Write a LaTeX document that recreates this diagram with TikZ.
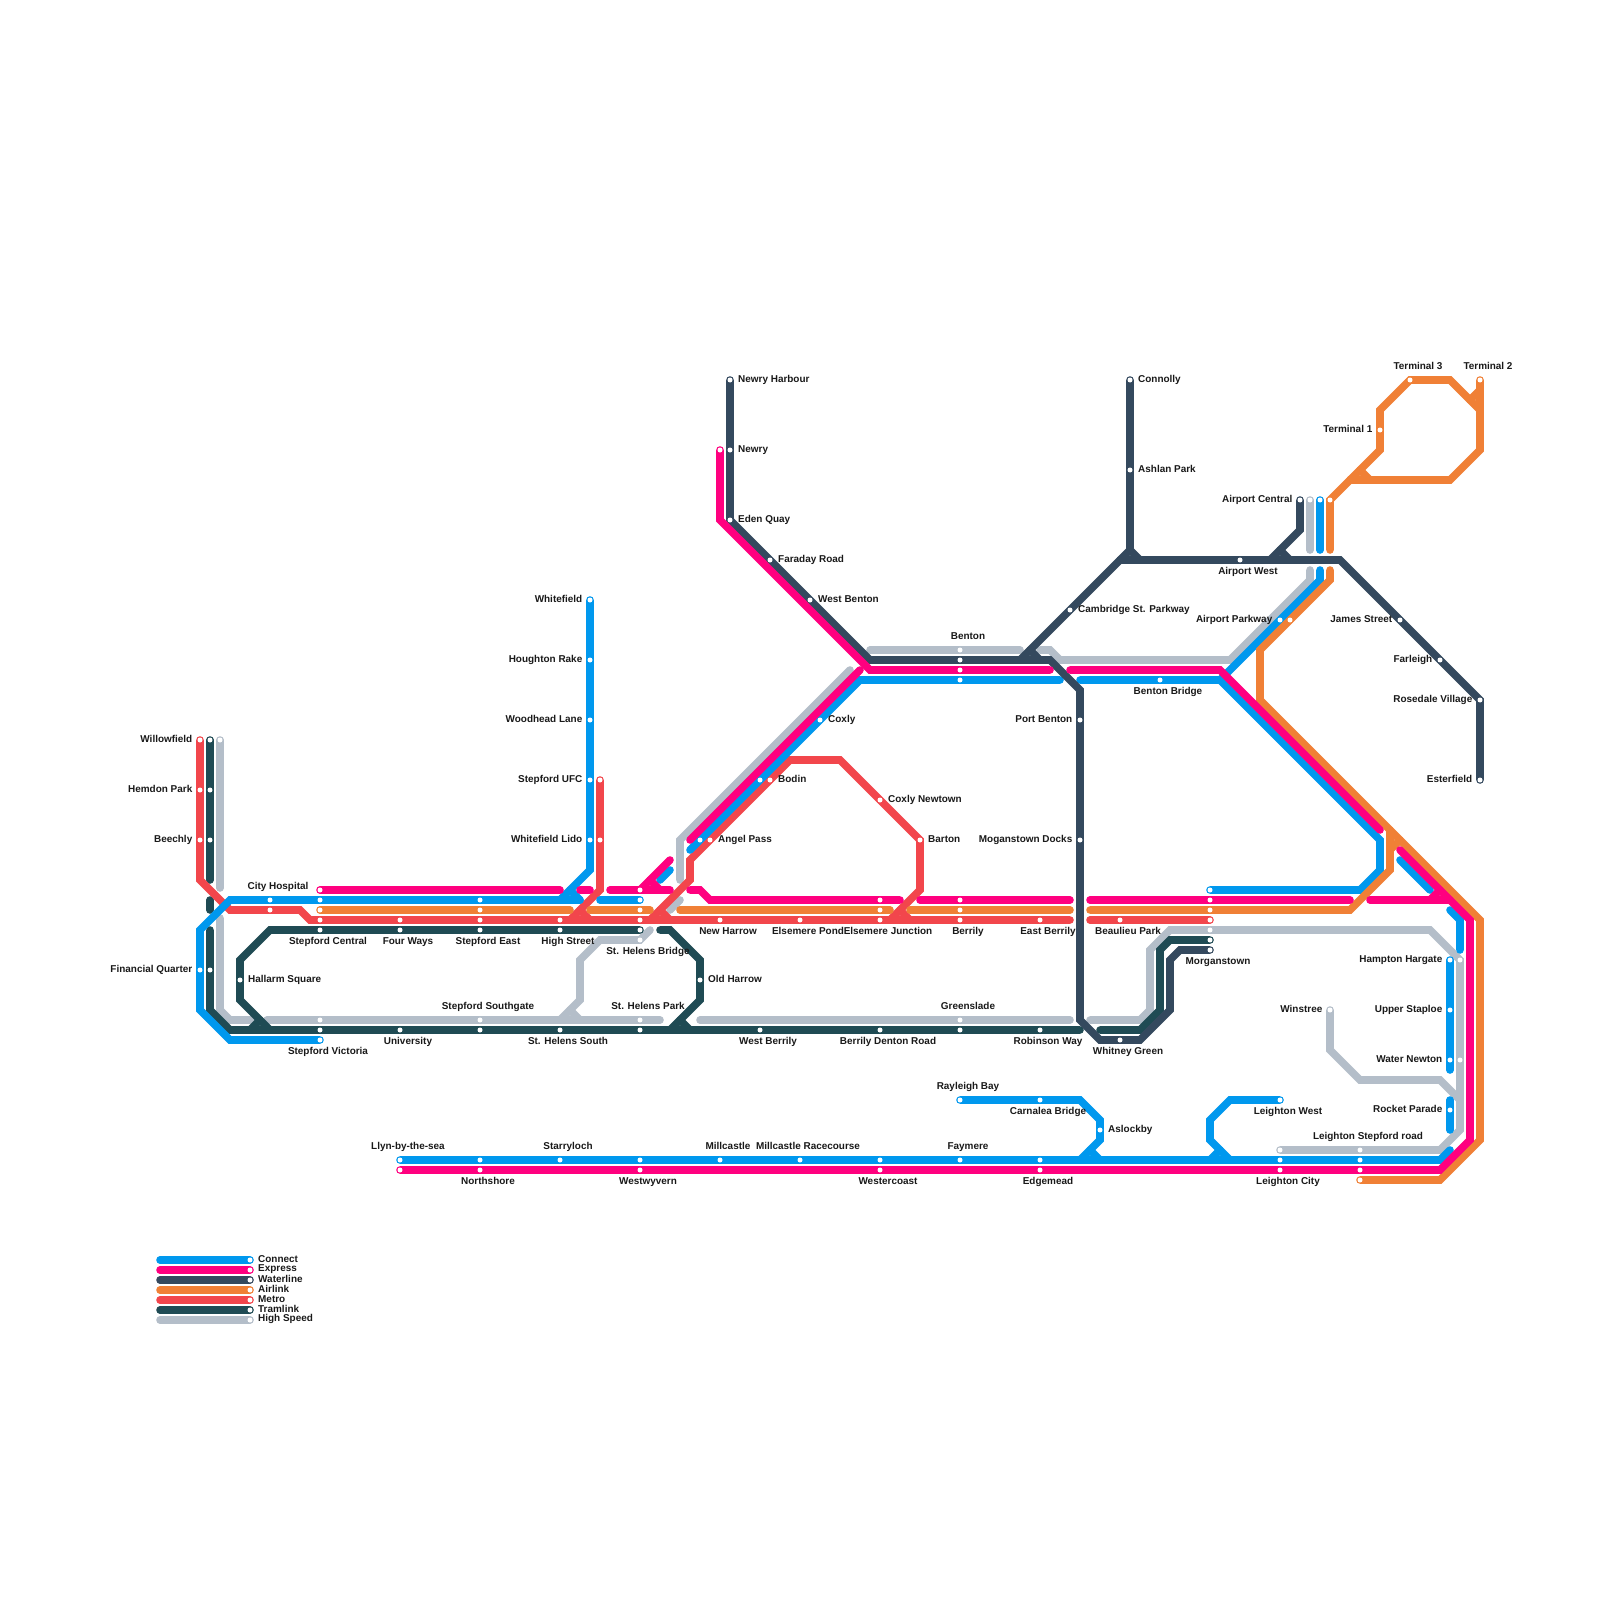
\documentclass[tikz,border=0pt]{standalone}
\usepackage{fontspec}
\setmainfont{Liberation Sans}
\definecolor{cConnect}{HTML}{0098EE}
\definecolor{cExpress}{HTML}{FF007F}
\definecolor{cWater}{HTML}{34495E}
\definecolor{cAir}{HTML}{F08036}
\definecolor{cMetro}{HTML}{F2464C}
\definecolor{cTram}{HTML}{1F4B54}
\definecolor{cHigh}{HTML}{B4BEC9}
\tikzset{
  ln/.style={line width=7.6pt,line cap=round,line join=miter,miter limit=10,draw=#1},
  hs/.style={ln=cHigh}, tr/.style={ln=cTram}, me/.style={ln=cMetro}, co/.style={ln=cConnect},
  ex/.style={ln=cExpress}, ai/.style={ln=cAir}, wa/.style={ln=cWater},
  stn/.style={circle,fill=white,inner sep=0pt,minimum size=5pt},
  lbl/.style={inner sep=0pt,font=\fontsize{9.95}{12}\selectfont\bfseries,text=black!90},
  lL/.style={lbl,anchor=base east,xshift=-7.5pt,yshift=-2.9pt},
  lR/.style={lbl,anchor=base west,xshift=8pt,yshift=-2.9pt},
  lT/.style={lbl,anchor=base,xshift=8pt,yshift=10.4pt},
  lB/.style={lbl,anchor=base,xshift=8pt,yshift=-14.8pt},
  lgl/.style={lbl,anchor=west,xshift=8pt,yshift=0.7pt}
}
\def\stnlist{mWil/200/740,mHem/200/790,mBee/200/840,mCit/270/910,mCen/320/920,mFou/400/920,mEas/480/920,mHig/560/920,mBri/640/920,mNew/720/920,mPon/800/920,mEJ/880/920,mBer/960/920,mEB/1040/920,mBP/1120/920,mEnd/1210/920,mUFC/600/780,mLid/600/840,mAng/710/840,mBod/770/780,mNwt/880/800,mBar/920/840,
tWil/210/740,tHem/210/790,tBee/210/840,tFin/210/970,tCen/320/930,tFou/400/930,tEas/480/930,tHig/560/930,tBri/640/930,tHal/240/980,tOld/700/980,tVic/320/1030,tUni/400/1030,tSou/480/1030,tSHS/560/1030,tPar/640/1030,tWB/760/1030,tDen/880/1030,tGre/960/1030,tRob/1040/1030,tMor/1210/940,
gWil/220/740,gVic/320/1020,gSou/480/1020,gPar/640/1020,gBri/640/940,gGre/960/1020,gBen/960/650,gMor/1210/930,gAir/1310/500,gHam/1460/960,gWat/1460/1060,gWin/1330/1010,gLCi/1280/1150,gLSt/1360/1150,
cHos/270/900,cCen/320/900,cEas/480/900,cBri/640/900,cVic/320/1040,cFin/200/970,cWhi/590/600,cHou/590/660,cWoo/590/720,cUFC/590/780,cLid/590/840,cAng/700/840,cBod/760/780,cCox/820/720,cBen/960/680,cBB/1160/680,cPkw/1280/620,cAirp/1320/500,cMor/1210/890,cHam/1450/960,cUpp/1450/1010,cWat/1450/1060,cRoc/1450/1110,cRay/960/1100,cCar/1040/1100,cAsl/1100/1130,cLW/1280/1100,cLly/400/1160,cNor/480/1160,cSta/560/1160,cWes/640/1160,cMil/720/1160,cRac/800/1160,cWst/880/1160,cFay/960/1160,cEdg/1040/1160,cLCi/1280/1160,cLSt/1360/1160,
eHos/320/890,eBri/640/890,eJun/880/900,eBer/960/900,eMor/1210/900,eNew/720/450,eBen/960/670,eLly/400/1170,eNor/480/1170,eWes/640/1170,eWst/880/1170,eEdg/1040/1170,eLCi/1280/1170,eLSt/1360/1170,
aCen/320/910,aEas/480/910,aBri/640/910,aEJ/880/910,aBer/960/910,aMor/1210/910,aPkw/1290/620,aAirp/1330/500,aTa/1380/430,aTc/1410/380,aTb/1480/380,aLSt/1360/1180,
wHar/730/380,wNew/730/450,wEde/730/520,wFar/770/560,wWB/810/600,wBen/960/660,wPort/1080/720,wMog/1080/840,wWhi/1120/1040,wMor/1210/950,wCam/1070/610,wCon/1130/380,wAsh/1130/470,wAW/1240/560,wJam/1400/620,wFrl/1440/660,wRos/1480/700,wEst/1480/780,wAC/1300/500}
\begin{document}
\begin{tikzpicture}[x=1pt,y=-1pt]
\useasboundingbox (0,0) rectangle (1600,1600);
\fill[white] (0,0) rectangle (1600,1600);
\foreach \n/\x/\y in \stnlist {\coordinate (\n) at (\x,\y);}
% High Speed
\draw[hs] (gWil) -- (220,888);
\draw[hs] (220,918) -- (220,1010) -- (230,1020) -- (253,1020);
\draw[hs] (267,1020) -- (gVic) -- (gSou) -- (gPar) -- (660,1020);
\draw[hs] (650,930) -- (gBri) -- (600,940) -- (580,960) -- (580,1000) -- (560,1020);
\draw[hs] (570,1010) -- (580,1020);
\draw[hs] (850,670) -- (680,840) -- (680,880);
\draw[hs] (670,910) -- (680,900);
\draw[hs] (700,1020) -- (gGre) -- (1070,1020);
\draw[hs] (1090,1020) -- (1140,1020) -- (1150,1010) -- (1150,950) -- (1170,930) -- (gMor) -- (1430,930) -- (gHam) -- (gWat) -- (1460,1130) -- (1440,1150) -- (gLSt) -- (gLCi);
\draw[hs] (gWin) -- (1330,1050) -- (1360,1080) -- (1440,1080) -- (1460,1100);
\draw[hs] (870,650) -- (gBen) -- (1020,650);
\draw[hs] (1040,650) -- (1050,650) -- (1060,660) -- (1230,660) -- (1310,580) -- (1310,570);
\draw[hs] (gAir) -- (1310,550);
% Tramlink
\draw[tr] (tWil) -- (210,880);
\draw[tr] (210,900) -- (210,910);
\draw[tr] (210,930) -- (tFin) -- (210,1010) -- (230,1030) -- (1080,1030);
\draw[tr] (tBri) -- (270,930) -- (240,960) -- (tHal) -- (240,1000) -- (270,1030);
\draw[tr] (260,1020) -- (250,1030);
\draw[tr] (660,930) -- (670,930) -- (700,960) -- (tOld) -- (700,1000) -- (670,1030);
\draw[tr] (680,1020) -- (690,1030);
\draw[tr] (1100,1030) -- (1140,1030) -- (1160,1010) -- (1160,950) -- (1170,940) -- (tMor);
% Metro
\draw[me] (mWil) -- (200,880) -- (230,910) -- (300,910) -- (310,920) -- (1070,920);
\draw[me] (1090,920) -- (mEnd);
\draw[me] (mUFC) -- (600,890) -- (570,920);
\draw[me] (580,910) -- (590,920);
\draw[me] (650,920) -- (690,880) -- (690,860) -- (790,760) -- (840,760) -- (mBar) -- (920,890) -- (890,920);
\draw[me] (660,910) -- (670,920);
\draw[me] (900,910) -- (910,920);
% Connect
\draw[co] (cWhi) -- (590,870) -- (560,900) -- (230,900) -- (200,930) -- (200,1010) -- (230,1040) -- (cVic);
\draw[co] (560,900) -- (580,900);
\draw[co] (570,890) -- (580,900);
\draw[co] (600,900) -- (cBri);
\draw[co] (660,880) -- (670,870);
\draw[co] (690,850) -- (860,680) -- (1060,680);
\draw[co] (1080,680) -- (1220,680) -- (1380,840) -- (1380,870) -- (1360,890) -- (cMor);
\draw[co] (1220,680) -- (1320,580) -- (1320,570);
\draw[co] (cAirp) -- (1320,550);
\draw[co] (1400,860) -- (1430,890);
\draw[co] (1450,910) -- (1460,920) -- (1460,950);
\draw[co] (cHam) -- (1450,1070);
\draw[co] (1450,1100) -- (1450,1130);
\draw[co] (cRay) -- (1080,1100) -- (1100,1120) -- (1100,1140) -- (1080,1160);
\draw[co] (1090,1150) -- (1100,1160);
\draw[co] (cLW) -- (1230,1100) -- (1210,1120) -- (1210,1140) -- (1230,1160);
\draw[co] (1220,1150) -- (1210,1160);
\draw[co] (cLly) -- (1440,1160) -- (1450,1150);
% Airlink
\draw[ai] (aCen) -- (570,910);
\draw[ai] (590,910) -- (650,910);
\draw[ai] (680,910) -- (890,910);
\draw[ai] (910,910) -- (1070,910);
\draw[ai] (1090,910) -- (1350,910) -- (1390,870) -- (1390,830);
\draw[ai] (1390,850) -- (1400,840);
\draw[ai] (aLSt) -- (1440,1180) -- (1480,1140) -- (1480,920) -- (1260,700) -- (1260,650) -- (1330,580) -- (1330,570);
\draw[ai] (1330,550) -- (aAirp) -- (1350,480) -- (1450,480) -- (1480,450) -- (aTb);
\draw[ai] (1350,480) -- (1380,450) -- (1380,410) -- (1410,380) -- (1450,380) -- (1480,410);
\draw[ai] (1360,470) -- (1370,480);
\draw[ai] (1480,390) -- (1470,400);
% Waterline
\draw[wa] (wHar) -- (730,520) -- (870,660) -- (1050,660) -- (1080,690) -- (1080,1020) -- (1100,1040) -- (1140,1040) -- (1170,1010) -- (1170,960) -- (1180,950) -- (wMor);
\draw[wa] (wCon) -- (1130,550) -- (1140,560) -- (1340,560) -- (wRos) -- (wEst);
\draw[wa] (1130,550) -- (1120,560) -- (1020,660);
\draw[wa] (1120,560) -- (1140,560);
\draw[wa] (1030,650) -- (1040,660);
\draw[wa] (wAC) -- (1300,530) -- (1270,560);
\draw[wa] (1280,550) -- (1290,560);
% Express
\draw[ex] (eHos) -- (560,890);
\draw[ex] (580,890) -- (590,890);
\draw[ex] (610,890) -- (670,890);
\draw[ex] (eBri) -- (670,860);
\draw[ex] (650,880) -- (660,890);
\draw[ex] (690,890) -- (700,890) -- (710,900) -- (900,900);
\draw[ex] (920,900) -- (1070,900);
\draw[ex] (1090,900) -- (1350,900);
\draw[ex] (1370,900) -- (1450,900);
\draw[ex] (1430,900) -- (1440,890);
\draw[ex] (1400,850) -- (1470,920) -- (1470,1140) -- (1440,1170) -- (eLly);
\draw[ex] (eNew) -- (720,520) -- (870,670) -- (1050,670);
\draw[ex] (690,840) -- (860,670);
\draw[ex] (1070,670) -- (1220,670) -- (1380,830);
% Stations
\foreach \n/\x/\y in \stnlist {\node[stn] (d\n) at (\n) {};}
% Labels
\node[lL] (lWil) at (mWil) {Willowfield};
\node[lL] (lHem) at (mHem) {Hemdon Park};
\node[lL] (lBee) at (mBee) {Beechly};
\node[lL] (lFin) at (cFin) {Financial Quarter};
\node[lL] (lWhi) at (cWhi) {Whitefield};
\node[lL] (lHou) at (cHou) {Houghton Rake};
\node[lL] (lWoo) at (cWoo) {Woodhead Lane};
\node[lL] (lUFC) at (cUFC) {Stepford UFC};
\node[lL] (lLid) at (cLid) {Whitefield Lido};
\node[lL] (lPor) at (wPort) {Port Benton};
\node[lL] (lMog) at (wMog) {Moganstown Docks};
\node[lL] (lPkw) at (cPkw) {Airport Parkway};
\node[lL] (lJam) at (wJam) {James Street};
\node[lL] (lFrl) at (wFrl) {Farleigh};
\node[lL] (lRos) at (wRos) {Rosedale Village};
\node[lL] (lEst) at (wEst) {Esterfield};
\node[lL] (lAC) at (wAC) {Airport Central};
\node[lL] (lTa) at (aTa) {Terminal 1};
\node[lL] (lHam) at (cHam) {Hampton Hargate};
\node[lL] (lWin) at (gWin) {Winstree};
\node[lL] (lUpp) at (cUpp) {Upper Staploe};
\node[lL] (lWat) at (cWat) {Water Newton};
\node[lL] (lRoc) at (cRoc) {Rocket Parade};
\node[lR] (lHal) at (tHal) {Hallarm Square};
\node[lR] (lOld) at (tOld) {Old Harrow};
\node[lR] (lAng) at (mAng) {Angel Pass};
\node[lR] (lBod) at (mBod) {Bodin};
\node[lR] (lCox) at (cCox) {Coxly};
\node[lR] (lNwt) at (mNwt) {Coxly Newtown};
\node[lR] (lBar) at (mBar) {Barton};
\node[lR] (lHar) at (wHar) {Newry Harbour};
\node[lR] (lNew) at (wNew) {Newry};
\node[lR] (lEde) at (wEde) {Eden Quay};
\node[lR] (lFar) at (wFar) {Faraday Road};
\node[lR] (lWB) at (wWB) {West Benton};
\node[lR] (lCam) at (wCam) {Cambridge St. Parkway};
\node[lR] (lCon) at (wCon) {Connolly};
\node[lR] (lAsh) at (wAsh) {Ashlan Park};
\node[lR] (lAsl) at (cAsl) {Aslockby};
\node[lT] (lHos) at (cHos) {City Hospital};
\node[lT] (lSou) at (gSou) {Stepford Southgate};
\node[lT] (lPar) at (gPar) {St. Helens Park};
\node[lT] (lGre) at (gGre) {Greenslade};
\node[lT] (lBen) at (gBen) {Benton};
\node[lT] (lRay) at (cRay) {Rayleigh Bay};
\node[lT] (lLly) at (cLly) {Llyn-by-the-sea};
\node[lT] (lSta) at (cSta) {Starryloch};
\node[lT] (lMil) at (cMil) {Millcastle};
\node[lT] (lRac) at (cRac) {Millcastle Racecourse};
\node[lT] (lFay) at (cFay) {Faymere};
\node[lT] (lLSt) at (gLSt) {Leighton Stepford road};
\node[lT] (lTc) at (aTc) {Terminal 3};
\node[lT] (lTb) at (aTb) {Terminal 2};
\node[lB] (lCen) at (tCen) {Stepford Central};
\node[lB] (lFou) at (tFou) {Four Ways};
\node[lB] (lEas) at (tEas) {Stepford East};
\node[lB] (lHig) at (tHig) {High Street};
\node[lB] (lBri) at (gBri) {St. Helens Bridge};
\node[lB] (lNewh) at (mNew) {New Harrow};
\node[lB] (lPon) at (mPon) {Elsemere Pond};
\node[lB] (lEJ) at (mEJ) {Elsemere Junction};
\node[lB] (lBer) at (mBer) {Berrily};
\node[lB] (lEB) at (mEB) {East Berrily};
\node[lB] (lBP) at (mBP) {Beaulieu Park};
\node[lB] (lMor) at (wMor) {Morganstown};
\node[lB] (lWhit) at (wWhi) {Whitney Green};
\node[lB] (lVic) at (cVic) {Stepford Victoria};
\node[lB] (lUni) at (tUni) {University};
\node[lB] (lSHS) at (tSHS) {St. Helens South};
\node[lB] (lWBe) at (tWB) {West Berrily};
\node[lB] (lDen) at (tDen) {Berrily Denton Road};
\node[lB] (lRob) at (tRob) {Robinson Way};
\node[lB] (lCar) at (cCar) {Carnalea Bridge};
\node[lB] (lLW) at (cLW) {Leighton West};
\node[lB] (lNor) at (eNor) {Northshore};
\node[lB] (lWes) at (eWes) {Westwyvern};
\node[lB] (lWst) at (eWst) {Westercoast};
\node[lB] (lEdg) at (eEdg) {Edgemead};
\node[lB] (lLCi) at (eLCi) {Leighton City};
\node[lB] (lBB) at (cBB) {Benton Bridge};
\node[lB] (lAW) at (wAW) {Airport West};
% Legend
\foreach \y/\c/\t/\k in {1260/cConnect/Connect/a,1270/cExpress/Express/b,1280/cWater/Waterline/c,1290/cAir/Airlink/d,1300/cMetro/Metro/e,1310/cTram/Tramlink/f,1320/cHigh/High Speed/g}{
  \coordinate (lgs\k) at (160,\y);
  \coordinate (lgp\k) at (250,\y);
  \draw[ln=\c] (lgs\k) -- (lgp\k);
  \node[stn] (lge\k) at (lgp\k) {};
  \node[lgl] (lgt\k) at (lgp\k) {\t};
}
\end{tikzpicture}
\end{document}
